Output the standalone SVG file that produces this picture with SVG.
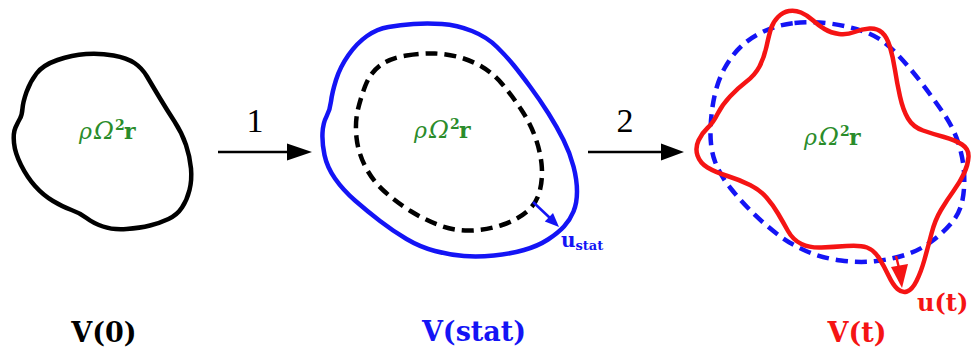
<svg xmlns="http://www.w3.org/2000/svg" width="971" height="352" viewBox="0 0 971 352">
<defs>
<style>
.shape{fill:none;stroke-width:4.5;stroke-linejoin:round;stroke-linecap:round}
.dash{fill:none;stroke-width:4.5;stroke-dasharray:12 7}
.force{font-family:"DejaVu Serif",serif;font-size:22px;fill:#2a8c2a}
.om{font-style:italic;font-size:24px}
.sup{font-size:14px;font-weight:bold}
.lbl{font-family:"DejaVu Serif",serif;font-size:27px;font-weight:bold;text-anchor:middle}
.step{font-family:"Liberation Serif",serif;font-size:34px;fill:#000;text-anchor:middle}
.conn{stroke:#000;stroke-width:2.5;fill:none}
</style>
</defs>
<rect width="971" height="352" fill="#fff"/>

<g id="v0">
<path class="shape" stroke="#000" d="M57.5,60 Q72,55 86,54 Q100,53 113.5,55.5 Q127,58 134.5,63 Q142,68 147,76.5 Q152,85 159.5,97.5 Q167,110 174.5,121.5 Q182,133 186,145 Q190,157 191,168.5 Q192,180 189.5,190 Q187,200 182,207.5 Q177,215 168.5,219 Q160,223 150,225.5 Q140,228 126.5,229 Q113,230 103,226.5 Q93,223 86.5,218 Q80,213 71.5,210 Q63,207 53,201 Q43,195 35,186 Q27,177 21,165 Q15,153 14,143 Q13,133 15.5,127.5 Q18,122 20,118.5 Q22,115 22.5,108.5 Q23,102 26.5,92 Q30,82 36.5,73.5 Q43,65 57.5,60 Z"/>
<text class="force" y="139"><tspan x="79" font-style="italic">ρ</tspan><tspan x="94" class="om">Ω</tspan><tspan x="115" y="130" class="sup">2</tspan><tspan x="124" y="139" font-weight="bold">r</tspan></text>
<text class="lbl" x="104" y="342" fill="#000">V(0)</text>
</g>

<g id="vstat">
<path class="shape" stroke="#1414f5" d="M388.5,27 Q400,25 413.5,24 Q427,23 442,24 Q457,25 472,31 Q487,37 497,47 Q507,57 513.5,65 Q520,73 530,86.5 Q540,100 548.5,113.5 Q557,127 563.5,140 Q570,153 573.5,166.5 Q577,180 577,191.5 Q577,203 573.5,211.5 Q570,220 564,226.5 Q558,233 548,239.5 Q538,246 524,250 Q510,254 494,255.5 Q478,257 464,256 Q450,255 435,251 Q420,247 406.5,239 Q393,231 380,221 Q367,211 355,200.5 Q343,190 335,178.5 Q327,167 324.5,155 Q322,143 322.5,133 Q323,123 326.5,116.5 Q330,110 331,101.5 Q332,93 336,80 Q340,67 348.5,55 Q357,43 367,36 Q377,29 388.5,27 Z"/>
<path class="dash" stroke="#000" d="M406.5,55.5 Q423,53 435,53.5 Q447,54 458.5,57 Q470,60 481.5,66.5 Q493,73 503,85 Q513,97 521.5,110 Q530,123 535,136.5 Q540,150 541.5,163.5 Q543,177 540,190 Q537,203 527,211.5 Q517,220 502,225 Q487,230 471,230.5 Q455,231 440,225.5 Q425,220 410.5,211 Q396,202 384,191 Q372,180 365,166 Q358,152 356.5,137.5 Q355,123 357.5,111.5 Q360,100 365,86.5 Q370,73 380,65.5 Q390,58 406.5,55.5 Z"/>
<line x1="533" y1="202" x2="550" y2="218" stroke="#1414f5" stroke-width="2.5"/>
<polygon points="544.8,221.6 553,213 559,227" fill="#1414f5"/>
<text class="force" y="138"><tspan x="414" font-style="italic">ρ</tspan><tspan x="429" class="om">Ω</tspan><tspan x="450" y="129" class="sup">2</tspan><tspan x="459" y="138" font-weight="bold">r</tspan></text>
<text font-family="DejaVu Serif, serif" font-weight="bold" fill="#1414f5" x="561" y="247" font-size="20">u<tspan font-size="13" dy="3">stat</tspan></text>
<text class="lbl" x="474" y="341" fill="#1414f5">V(stat)</text>
</g>

<g id="vt">
<path class="dash" stroke="#1414f5" d="M794.5,23 Q812,21 830,23.5 Q848,26 864,31.5 Q880,37 893.5,50.5 Q907,64 920,81 Q933,98 943,112.5 Q953,127 958,142 Q963,157 964,172 Q965,187 962.5,200 Q960,213 951.5,223 Q943,233 931.5,241.5 Q920,250 906.5,254.5 Q893,259 876.5,261 Q860,263 841,260.5 Q822,258 806,251 Q790,244 776.5,233.5 Q763,223 751.5,211.5 Q740,200 730,187.5 Q720,175 715,161.5 Q710,148 710.5,130 Q711,112 714.5,96 Q718,80 725,67.5 Q732,55 741,46.5 Q750,38 763.5,31.5 Q777,25 794.5,23 Z"/>
<path class="shape" stroke="#f51414" d="M778,17 Q783,12 789,11 Q795,10 801,12.5 Q807,15 812.5,20 Q818,25 824.5,29 Q831,33 839,34 Q847,35 854.5,32 Q862,29 869.5,28.5 Q877,28 882,32.5 Q887,37 890,47 Q893,57 895,70 Q897,83 900,96.5 Q903,110 908,118.5 Q913,127 923,130.5 Q933,134 944,137 Q955,140 962,144.5 Q969,149 968.5,157 Q968,165 964,173.5 Q960,182 953.5,191 Q947,200 941,210 Q935,220 931.5,233.5 Q928,247 924.5,259.5 Q921,272 916.5,281 Q912,290 907,291.5 Q902,293 897.5,289 Q893,285 888.5,275.5 Q884,266 879,258 Q874,250 867,247.5 Q860,245 846.5,246 Q833,247 821.5,247.5 Q810,248 801.5,244 Q793,240 788,231 Q783,222 778,213.5 Q773,205 766.5,197.5 Q760,190 750,185 Q740,180 727.5,176 Q715,172 707.5,167.5 Q700,163 697.5,155.5 Q695,148 698.5,140.5 Q702,133 707.5,128 Q713,123 717.5,114 Q722,105 730,96.5 Q738,88 746.5,81.5 Q755,75 759.5,66.5 Q764,58 766.5,46.5 Q769,35 771,28.5 Q773,22 778,17 Z"/>
<line x1="896" y1="256" x2="899" y2="268" stroke="#f51414" stroke-width="2.5"/>
<polygon points="891,267 908,264 902,288" fill="#f51414"/>
<text class="force" y="145"><tspan x="804" font-style="italic">ρ</tspan><tspan x="819" class="om">Ω</tspan><tspan x="840" y="136" class="sup">2</tspan><tspan x="849" y="145" font-weight="bold">r</tspan></text>
<text font-family="DejaVu Serif, serif" font-weight="bold" fill="#f51414" x="917" y="311" font-size="24">u(t)</text>
<text class="lbl" x="857" y="342" fill="#f51414">V(t)</text>
</g>

<g id="connectors">
<line class="conn" x1="218" y1="152" x2="290" y2="152"/>
<polygon points="287,143.5 312,152 287,160.5" fill="#000"/>
<text class="step" x="255" y="132">1</text>
<line class="conn" x1="588" y1="152" x2="664" y2="152"/>
<polygon points="661,143.5 684,152 661,160.5" fill="#000"/>
<text class="step" x="625" y="132">2</text>
</g>
</svg>
